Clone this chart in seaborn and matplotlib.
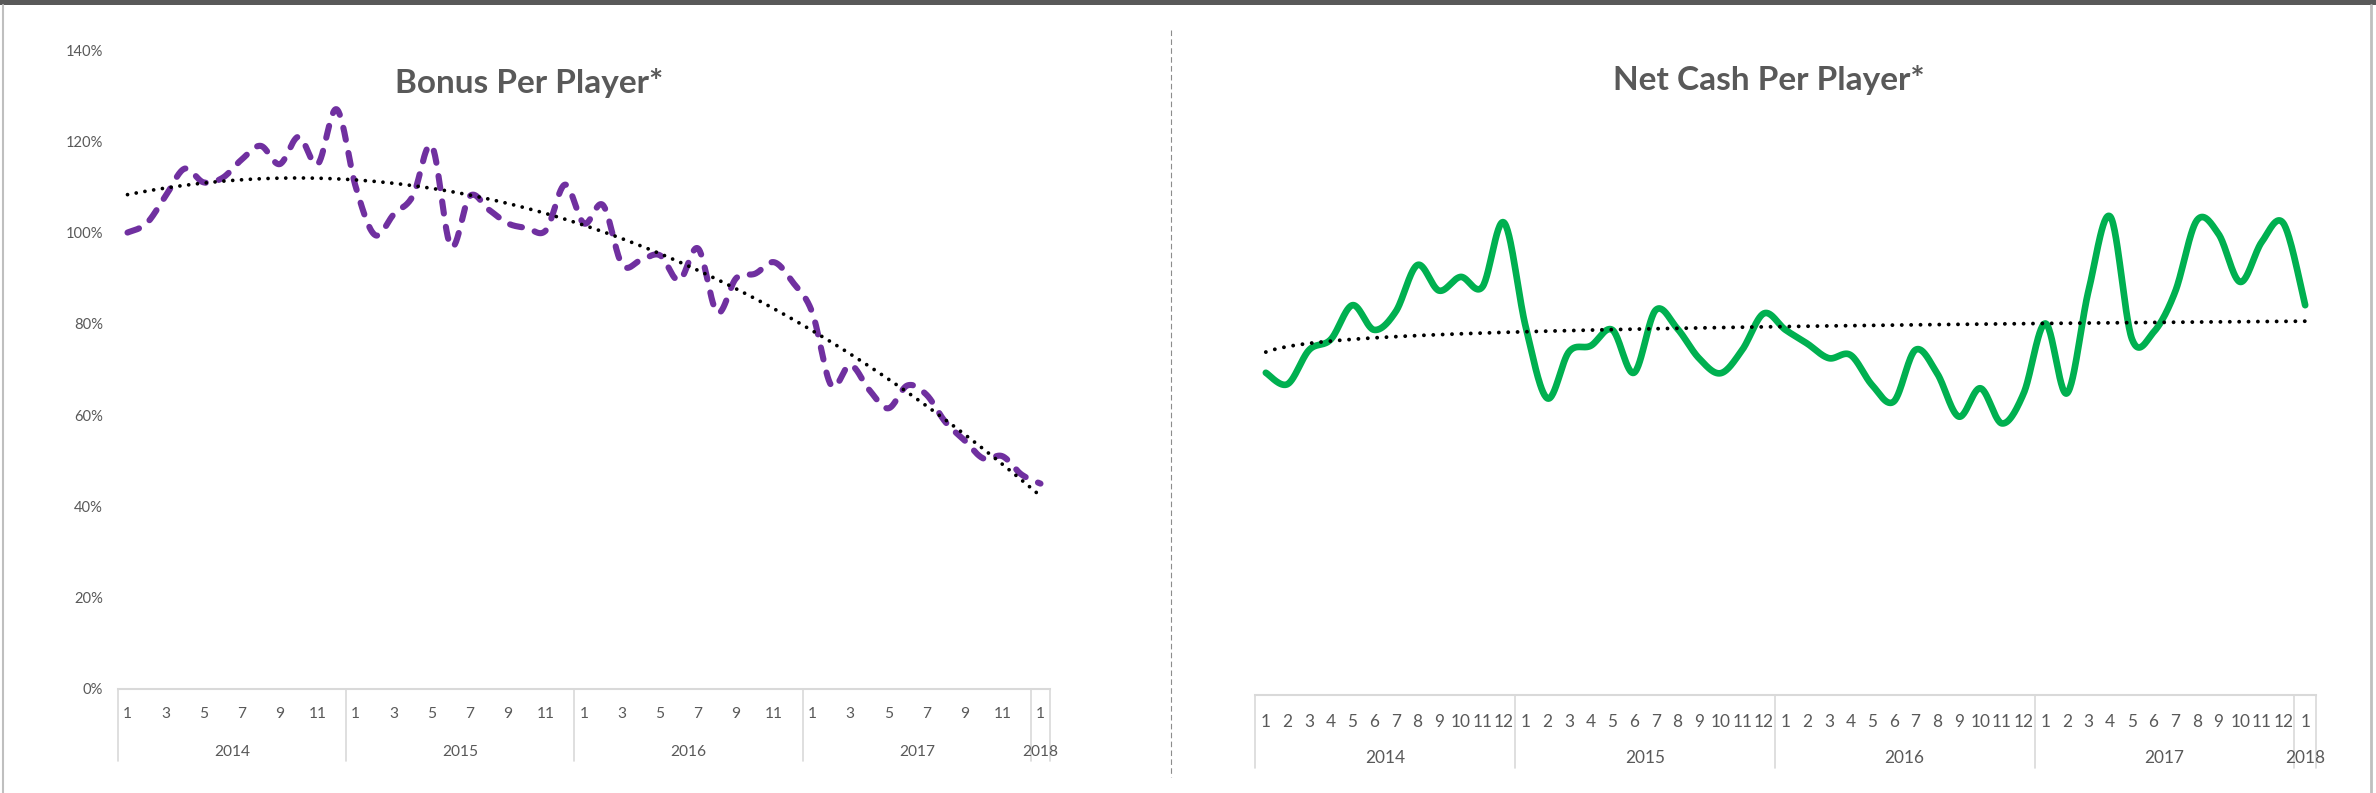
import numpy as np
import pandas as pd
import matplotlib
matplotlib.use("Agg")
import matplotlib.pyplot as plt
from matplotlib.lines import Line2D
from matplotlib.patches import Rectangle
from matplotlib.transforms import blended_transform_factory
import seaborn as sns

# ---------------------------------------------------------------- data
years = [2014] * 12 + [2015] * 12 + [2016] * 12 + [2017] * 12 + [2018]
months = list(range(1, 13)) * 4 + [1]

bonus_per_player = [
    100, 102, 108, 114, 111, 112, 116, 119, 115, 121, 115, 127,
    110, 99.5, 104, 108, 119, 97, 108, 105, 102, 101, 100.5, 110.5,
    102, 106, 93, 94, 95, 89.5, 96.5, 82.5, 90, 91, 93.5, 89,
    82.5, 66.5, 71, 65.5, 61.5, 66.5, 64.5, 58.5, 54.5, 50.5, 51, 47,
    45,
]

net_cash_per_player = [
    70.6, 68.1, 75.6, 77.9, 85.4, 80, 84, 94.2, 88.6, 91.6, 89.4, 103.5,
    80.7, 65, 75.2, 76.5, 80, 70.6, 84.3, 80.3, 73.8, 70.5, 75.6, 83.6,
    80, 77, 73.8, 74.5, 67.9, 64.3, 75.6, 70.5, 61, 67.2, 59.5, 66.1,
    81.4, 66.1, 88.7, 104.8, 78, 79.5, 88.4, 104, 101, 90.5, 99.3, 103.3,
    85.4,
]

y_ticks = [0, 20, 40, 60, 80, 100, 120, 140]
y_tick_labels = ["0%", "20%", "40%", "60%", "80%", "100%", "120%", "140%"]

title_bonus = "Bonus Per Player*"
title_cash = "Net Cash Per Player*"

# ---------------------------------------------------------------- style
PURPLE = "#7030A0"
GREEN = "#00B050"
TEXT = "#595959"
AXIS = "#D9D9D9"

sns.set_theme(style="white")
plt.rcParams["font.family"] = ["Lato", "DejaVu Sans"]

W, H = 2376, 793
fig = plt.figure(figsize=(W / 100, H / 100), dpi=100)
fig.patch.set_facecolor("white")


def fx(px):
    return px / W


def fy(py):
    return 1 - py / H


ax1 = fig.add_axes([fx(118), fy(689), (1050 - 118) / W, (689 - 50) / H])
ax2 = fig.add_axes([fx(1255), fy(695), (2316 - 1255) / W, (695 - 56) / H])


def smooth_curve(values, steps=30):
    """Bezier smoothing through every point (spreadsheet-style smoothed line)."""
    y = np.asarray(values, dtype=float)
    x = np.arange(len(y), dtype=float)
    n = len(y)
    xs, ys = [], []
    t = np.linspace(0.0, 1.0, steps, endpoint=False)
    for i in range(n - 1):
        im1 = max(i - 1, 0)
        ip2 = min(i + 2, n - 1)
        p0 = np.array([x[i], y[i]])
        p3 = np.array([x[i + 1], y[i + 1]])
        c1 = p0 + (np.array([x[i + 1], y[i + 1]]) - np.array([x[im1], y[im1]])) / 6
        c2 = p3 - (np.array([x[ip2], y[ip2]]) - np.array([x[i], y[i]])) / 6
        b = ((1 - t) ** 3)[:, None] * p0 + (3 * (1 - t) ** 2 * t)[:, None] * c1 \
            + (3 * (1 - t) * t ** 2)[:, None] * c2 + (t ** 3)[:, None] * p3
        xs.append(b[:, 0])
        ys.append(b[:, 1])
    xs.append([x[-1]])
    ys.append([y[-1]])
    return pd.DataFrame({"x": np.concatenate(xs), "y": np.concatenate(ys)})


idx = np.arange(len(months), dtype=float)
trend_x = np.linspace(0, len(months) - 1, 600)

# quadratic trend for the bonus series, logarithmic trend for net cash
bonus_coef = np.polyfit(idx, bonus_per_player, 2)
bonus_trend = pd.DataFrame({"x": trend_x, "y": np.polyval(bonus_coef, trend_x)})
cash_coef = np.polyfit(np.log(idx + 1), net_cash_per_player, 1)
cash_trend = pd.DataFrame({"x": trend_x, "y": np.polyval(cash_coef, np.log(trend_x + 1))})

# ---------------------------------------------------------------- lines
sns.lineplot(data=smooth_curve(bonus_per_player), x="x", y="y", ax=ax1,
             sort=False, estimator=None, color=PURPLE, linewidth=4.4)
ax1.lines[-1].set_linestyle((0, (2.0, 2.2)))
ax1.lines[-1].set_dash_capstyle("round")

sns.lineplot(data=bonus_trend, x="x", y="y", ax=ax1, sort=False,
             estimator=None, color="black", linewidth=2.7)
ax1.lines[-1].set_linestyle((0, (0.01, 2.35)))
ax1.lines[-1].set_dash_capstyle("round")

sns.lineplot(data=smooth_curve(net_cash_per_player), x="x", y="y", ax=ax2,
             sort=False, estimator=None, color=GREEN, linewidth=4.8)
ax2.lines[-1].set_solid_capstyle("round")
ax2.lines[-1].set_solid_joinstyle("round")

sns.lineplot(data=cash_trend, x="x", y="y", ax=ax2, sort=False,
             estimator=None, color="black", linewidth=2.8)
ax2.lines[-1].set_linestyle((0, (0.01, 2.4)))
ax2.lines[-1].set_dash_capstyle("round")

# ---------------------------------------------------------------- axes
for ax in (ax1, ax2):
    ax.set_xlim(-0.5, len(months) - 0.5)
    ax.set_ylim(0, 140)
    ax.set_xlabel("")
    ax.set_ylabel("")
    ax.set_xticks([])
    for side in ("top", "right", "left"):
        ax.spines[side].set_visible(False)
    ax.spines["bottom"].set_color(AXIS)
    ax.spines["bottom"].set_linewidth(1.5)
    ax.set_facecolor("none")

ax1.set_yticks(y_ticks)
ax1.set_yticklabels(y_tick_labels)
ax1.tick_params(axis="y", length=0, pad=10.8, labelsize=10.6, labelcolor=TEXT)
ax2.set_yticks([])


def category_axis(ax, every, month_y, year_y, sep_depth, size):
    trans = blended_transform_factory(ax.transData, ax.transAxes)
    for i, m in enumerate(months):
        if i % every == 0:
            ax.text(i, month_y, str(m), transform=trans, ha="center",
                    va="center", fontsize=size, color=TEXT, clip_on=False)
    bounds = [-0.5]
    for yr in sorted(set(years)):
        pos = [i for i, v in enumerate(years) if v == yr]
        ax.text(np.mean(pos), year_y, str(yr), transform=trans, ha="center",
                va="center", fontsize=size, color=TEXT, clip_on=False)
        bounds.append(pos[-1] + 0.5)
    for b in bounds:
        ax.add_line(Line2D([b, b], [0, sep_depth], transform=trans,
                           color=AXIS, linewidth=1.2, clip_on=False))


category_axis(ax1, 2, -25 / 639, -63 / 639, -72 / 639, 11.2)
category_axis(ax2, 1, -27 / 639, -63 / 639, -73 / 639, 12.4)

# ---------------------------------------------------------------- titles
fig.text(fx(529), fy(93), title_bonus, ha="center", va="baseline",
         fontsize=24, fontweight="bold", color=TEXT)
fig.text(fx(1769), fy(90), title_cash, ha="center", va="baseline",
         fontsize=24, fontweight="bold", color=TEXT)

# ---------------------------------------------------------------- frame
fig.add_artist(Rectangle((0, fy(5)), 1, 5 / H, transform=fig.transFigure,
                         facecolor="#595959", edgecolor="none"))
fig.add_artist(Line2D([fx(3), fx(3)], [0, fy(5)], transform=fig.transFigure,
                      color="#BFBFBF", linewidth=1.5))
fig.add_artist(Line2D([fx(2371), fx(2371)], [0, fy(5)], transform=fig.transFigure,
                      color="#BFBFBF", linewidth=2))
fig.add_artist(Line2D([fx(1171), fx(1171)], [fy(30), fy(777)],
                      transform=fig.transFigure, color="#8C8C8C", linewidth=0.8,
                      linestyle=(0, (5, 3))))

fig.savefig("out.png", dpi=100, facecolor="white")
